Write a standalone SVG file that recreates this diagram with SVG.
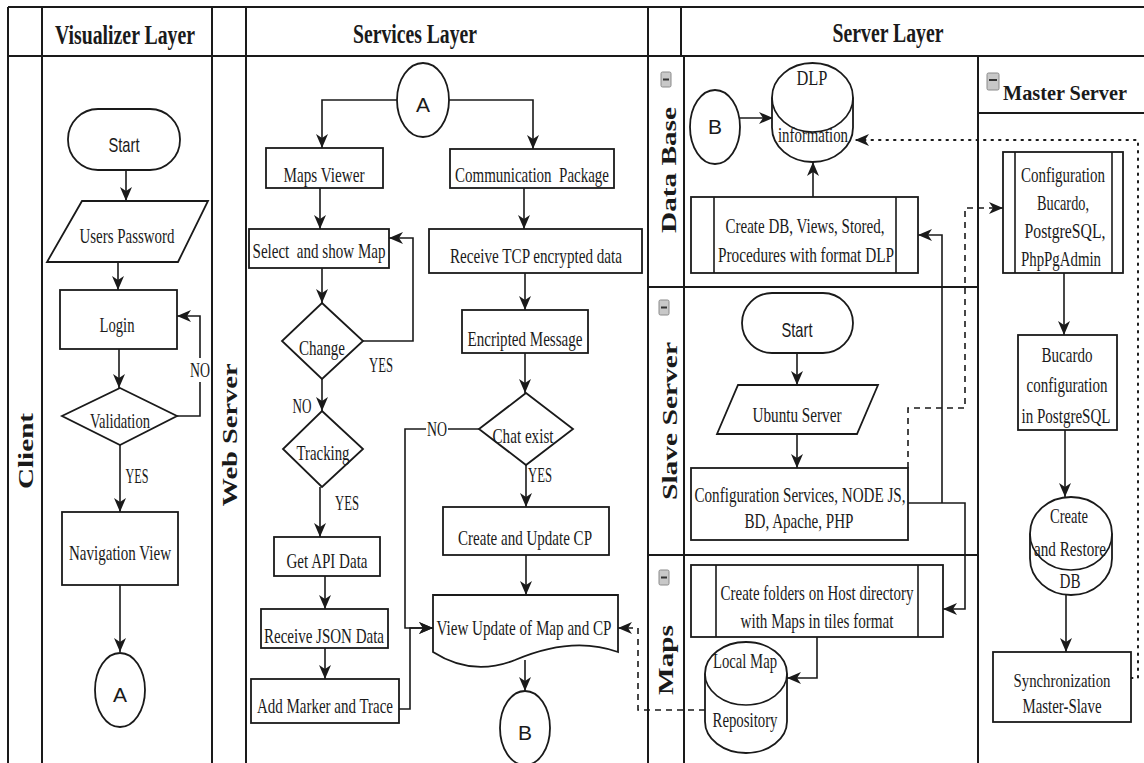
<svg xmlns="http://www.w3.org/2000/svg" width="1144" height="763" viewBox="0 0 1144 763">
<style>
.ln{fill:none;stroke:#1a1a1a;stroke-width:2}
.sh{fill:#fff;stroke:#1a1a1a;stroke-width:1.8}
.c{fill:none;stroke:#1a1a1a;stroke-width:1.6;marker-end:url(#ah)}
.cn{fill:none;stroke:#1a1a1a;stroke-width:1.6}
.dash{stroke-dasharray:6,5}
.dot{stroke-dasharray:1.5,6;stroke-linecap:round;stroke-width:2}
text{fill:#1a1a1a}
.t{font-family:"Liberation Serif","Times New Roman",serif;font-size:21px;text-anchor:middle}
.s{font-family:"Liberation Sans",Arial,sans-serif;font-size:21px;text-anchor:middle}
.h{font-family:"Liberation Serif","Times New Roman",serif;font-size:27px;font-weight:bold;text-anchor:middle}
.lb{font-family:"Liberation Serif","Times New Roman",serif;font-size:28px;font-weight:bold;text-anchor:middle}
.ic{fill:#c8c8c8;stroke:#8a8a8a;stroke-width:1}
.icb{stroke:#333;stroke-width:2}
</style>
<defs>
<marker id="ah" viewBox="0 0 14 12" refX="14" refY="6" markerWidth="14" markerHeight="12" markerUnits="userSpaceOnUse" orient="auto">
<path d="M0,0 L14,6 L0,12 L4,6 Z" fill="#1a1a1a"/>
</marker>
</defs>
<rect width="1144" height="763" fill="#fff"/>

<g id="frame">
<path class="ln" d="M8,7 H1144 M8,56 H1144 M8,7 V763 M42,7 V763 M212,7 V763 M246,7 V763 M648,7 V763 M681,7 V56 M684,56 V763 M978,56 V763 M648,287 H978 M648,555 H978 M978,113 H1144"/>
<text class="h" x="125" y="44" textLength="140" lengthAdjust="spacingAndGlyphs">Visualizer Layer</text>
<text class="h" x="415" y="43" textLength="124" lengthAdjust="spacingAndGlyphs">Services Layer</text>
<text class="h" x="888" y="42" textLength="111" lengthAdjust="spacingAndGlyphs">Server Layer</text>
<text class="lb" transform="translate(33,451) rotate(-90) scale(1,0.75)" textLength="76" lengthAdjust="spacingAndGlyphs">Client</text>
<text class="lb" transform="translate(237,435) rotate(-90) scale(1,0.75)" textLength="143" lengthAdjust="spacingAndGlyphs">Web Server</text>
<text class="lb" transform="translate(676,170) rotate(-90) scale(1,0.75)" textLength="126" lengthAdjust="spacingAndGlyphs">Data Base</text>
<text class="lb" transform="translate(677,421) rotate(-90) scale(1,0.75)" textLength="158" lengthAdjust="spacingAndGlyphs">Slave Server</text>
<text class="lb" transform="translate(673,660) rotate(-90) scale(1,0.75)" textLength="70" lengthAdjust="spacingAndGlyphs">Maps</text>
<rect class="ic" x="661" y="72" width="10" height="15" rx="1.5"/><path class="icb" d="M663,79.5 H669"/>
<rect class="ic" x="659" y="300" width="10" height="15" rx="1.5"/><path class="icb" d="M661,307.5 H667"/>
<rect class="ic" x="659" y="570" width="10" height="15" rx="1.5"/><path class="icb" d="M661,577.5 H667"/>
<rect class="ic" x="987" y="73" width="12" height="17" rx="1.5"/><path class="icb" d="M989,80 H997"/>
<text class="h" x="1065" y="100" style="font-size:22px" textLength="124" lengthAdjust="spacingAndGlyphs">Master Server</text>
</g>

<g id="connectors">
<path class="c" d="M126,170 V201"/>
<path class="c" d="M118,262 V290"/>
<path class="c" d="M119,349 V388"/>
<path class="c" d="M177,416 H200 V316 H177"/>
<path class="c" d="M120,445 V512"/>
<path class="c" d="M120,585 V652"/>
<path class="c" d="M397,100 H322 V148"/>
<path class="c" d="M449,100 H533 V149"/>
<path class="c" d="M320,188 V229"/>
<path class="c" d="M322,268 V303"/>
<path class="c" d="M363,341 H413 V238 H389"/>
<path class="c" d="M322,379 V411"/>
<path class="c" d="M320,487 V537"/>
<path class="c" d="M325,576 V609"/>
<path class="c" d="M325,648 V679"/>
<path class="c" d="M399,709 H410 V628 H433"/>
<path class="c" d="M524,188 V229"/>
<path class="c" d="M525,273 V310"/>
<path class="c" d="M525,353 V393"/>
<path class="c" d="M479,429 H405 V628 H433"/>
<path class="c" d="M526,465 V507"/>
<path class="c" d="M526,555 V595"/>
<path class="c" d="M525,660 V691"/>
<path class="c" d="M740,118 H773"/>
<path class="c" d="M813,197 V162"/>
<path class="c" d="M797,353 V385"/>
<path class="c" d="M797,434 V468"/>
<path class="c" d="M908,503 H965 V609 H943"/>
<path class="c" d="M942,503 V235 H918"/>
<path class="c" d="M817,637 V678 H787"/>
<path class="c dash" d="M705,710 H638 V628 H618"/>
<path class="c dash" d="M908,468 V408 H965 V208 H1003"/>
<path class="c" d="M1064,273 V335"/>
<path class="c" d="M1065,430 V497"/>
<path class="c" d="M1066,595 V652"/>
<path class="c dot" d="M1131,678 H1138 V140 H855"/>
<rect x="189" y="358" width="22" height="24" fill="#fff"/>
<text class="t" x="200" y="377" textLength="20" lengthAdjust="spacingAndGlyphs">NO</text>
<text class="t" x="137" y="483" textLength="23" lengthAdjust="spacingAndGlyphs">YES</text>
<text class="t" x="381" y="372" textLength="24" lengthAdjust="spacingAndGlyphs">YES</text>
<text class="t" x="302" y="413" textLength="19" lengthAdjust="spacingAndGlyphs">NO</text>
<text class="t" x="347" y="510" textLength="24" lengthAdjust="spacingAndGlyphs">YES</text>
<rect x="426" y="420" width="22" height="20" fill="#fff"/>
<text class="t" x="437" y="436" textLength="20" lengthAdjust="spacingAndGlyphs">NO</text>
<text class="t" x="540" y="482" textLength="24" lengthAdjust="spacingAndGlyphs">YES</text>
</g>

<g id="n-start">
<rect class="sh" x="68" y="109" width="112" height="61" rx="30"/>
<text class="s" x="124" y="152" textLength="31" lengthAdjust="spacingAndGlyphs">Start</text>
</g>
<g id="n-users-password">
<path class="sh" d="M82,201 H208 L178,262 H47 Z"/>
<text class="t" x="127" y="243" textLength="95" lengthAdjust="spacingAndGlyphs">Users Password</text>
</g>
<g id="n-login">
<rect class="sh" x="60" y="290" width="117" height="59"/>
<text class="t" x="117" y="332" textLength="35" lengthAdjust="spacingAndGlyphs">Login</text>
</g>
<g id="n-validation">
<path class="sh" d="M120,388 L177,416 L120,445 L62,416 Z"/>
<text class="t" x="120" y="428" textLength="60" lengthAdjust="spacingAndGlyphs">Validation</text>
</g>
<g id="n-navigation">
<rect class="sh" x="62" y="512" width="116" height="73"/>
<text class="t" x="120" y="560" textLength="102" lengthAdjust="spacingAndGlyphs">Navigation View</text>
</g>
<g id="n-a-client">
<ellipse class="sh" cx="120" cy="690" rx="25" ry="37"/>
<text class="s" x="120" y="702">A</text>
</g>

<g id="n-a-services">
<ellipse class="sh" cx="423" cy="100" rx="26" ry="37"/>
<text class="s" x="423" y="112">A</text>
</g>
<g id="n-maps-viewer">
<rect class="sh" x="266" y="148" width="117" height="40"/>
<text class="t" x="324" y="182" textLength="81" lengthAdjust="spacingAndGlyphs">Maps Viewer</text>
</g>
<g id="n-select-map">
<rect class="sh" x="249" y="229" width="140" height="39"/>
<text class="t" x="319" y="258" textLength="133" lengthAdjust="spacingAndGlyphs" xml:space="preserve">Select  and show Map</text>
</g>
<g id="n-change">
<path class="sh" d="M322,303 L363,341 L322,379 L282,341 Z"/>
<text class="t" x="322" y="355" textLength="46" lengthAdjust="spacingAndGlyphs">Change</text>
</g>
<g id="n-tracking">
<path class="sh" d="M322,411 L363,449 L322,487 L283,449 Z"/>
<text class="t" x="323" y="460" textLength="53" lengthAdjust="spacingAndGlyphs">Tracking</text>
</g>
<g id="n-get-api">
<rect class="sh" x="274" y="537" width="106" height="39"/>
<text class="t" x="327" y="568" textLength="81" lengthAdjust="spacingAndGlyphs">Get API Data</text>
</g>
<g id="n-receive-json">
<rect class="sh" x="261" y="609" width="127" height="39"/>
<text class="t" x="324" y="643" textLength="120" lengthAdjust="spacingAndGlyphs">Receive JSON Data</text>
</g>
<g id="n-add-marker">
<rect class="sh" x="251" y="679" width="148" height="44"/>
<text class="t" x="325" y="713" textLength="136" lengthAdjust="spacingAndGlyphs">Add Marker and Trace</text>
</g>
<g id="n-comm-package">
<rect class="sh" x="450" y="149" width="164" height="39"/>
<text class="t" x="532" y="182" textLength="154" lengthAdjust="spacingAndGlyphs" xml:space="preserve">Communication  Package</text>
</g>
<g id="n-receive-tcp">
<rect class="sh" x="429" y="229" width="213" height="44"/>
<text class="t" x="536" y="263" textLength="172" lengthAdjust="spacingAndGlyphs">Receive TCP encrypted data</text>
</g>
<g id="n-encripted">
<rect class="sh" x="462" y="310" width="126" height="43"/>
<text class="t" x="525" y="346" textLength="115" lengthAdjust="spacingAndGlyphs">Encripted Message</text>
</g>
<g id="n-chat-exist">
<path class="sh" d="M526,393 L573,429 L526,465 L479,429 Z"/>
<text class="t" x="523" y="443" textLength="61" lengthAdjust="spacingAndGlyphs">Chat exist</text>
</g>
<g id="n-create-cp">
<rect class="sh" x="443" y="507" width="166" height="48"/>
<text class="t" x="525" y="545" textLength="134" lengthAdjust="spacingAndGlyphs">Create and Update CP</text>
</g>
<g id="n-view-update">
<path class="sh" d="M433,595 H618 V652 C585,640 550,645 515,660 C485,672 458,668 433,652 Z"/>
<text class="t" x="524" y="635" textLength="175" lengthAdjust="spacingAndGlyphs">View Update of Map and CP</text>
</g>
<g id="n-b-services">
<ellipse class="sh" cx="525" cy="728" rx="25" ry="37"/>
<text class="s" x="525" y="740">B</text>
</g>

<g id="n-b-db">
<ellipse class="sh" cx="715" cy="127" rx="25" ry="37"/>
<text class="s" x="715" y="134">B</text>
</g>
<g id="n-dlp">
<path class="sh" d="M772,97.5 A40.5,34.5 0 0 1 853,97.5 V127.5 A40.5,34.5 0 0 1 772,127.5 Z"/>
<path class="cn" d="M772,97.5 A40.5,34.5 0 0 0 853,97.5"/>
<text class="t" x="812" y="85" textLength="31" lengthAdjust="spacingAndGlyphs">DLP</text>
<text class="t" x="813" y="142" textLength="70" lengthAdjust="spacingAndGlyphs">information</text>
</g>
<g id="n-create-db">
<rect class="sh" x="691" y="197" width="227" height="76"/>
<path class="cn" d="M714,197 V273 M896,197 V273"/>
<text class="t" x="805" y="233" textLength="159" lengthAdjust="spacingAndGlyphs">Create DB, Views, Stored,</text>
<text class="t" x="806" y="262" textLength="176" lengthAdjust="spacingAndGlyphs">Procedures with format DLP</text>
</g>
<g id="n-start-slave">
<rect class="sh" x="742" y="293" width="111" height="60" rx="30"/>
<text class="s" x="797" y="337" textLength="31" lengthAdjust="spacingAndGlyphs">Start</text>
</g>
<g id="n-ubuntu">
<path class="sh" d="M738,385 H878 L857,434 H717 Z"/>
<text class="t" x="797" y="422" textLength="89" lengthAdjust="spacingAndGlyphs">Ubuntu Server</text>
</g>
<g id="n-config-services">
<rect class="sh" x="691" y="468" width="217" height="72"/>
<text class="t" x="800" y="502" textLength="211" lengthAdjust="spacingAndGlyphs">Configuration Services, NODE JS,</text>
<text class="t" x="799" y="528" textLength="109" lengthAdjust="spacingAndGlyphs">BD, Apache, PHP</text>
</g>
<g id="n-create-folders">
<rect class="sh" x="691" y="565" width="252" height="72"/>
<path class="cn" d="M716,565 V637 M918,565 V637"/>
<text class="t" x="817" y="600" textLength="193" lengthAdjust="spacingAndGlyphs">Create folders on Host directory</text>
<text class="t" x="817" y="628" textLength="153" lengthAdjust="spacingAndGlyphs">with Maps in tiles format</text>
</g>
<g id="n-local-map">
<path class="sh" d="M705,673.5 A41,31.5 0 0 1 787,673.5 V721.5 A41,31.5 0 0 1 705,721.5 Z"/>
<path class="cn" d="M705,673.5 A41,31.5 0 0 0 787,673.5"/>
<text class="t" x="745" y="668" textLength="64" lengthAdjust="spacingAndGlyphs">Local Map</text>
<text class="t" x="745" y="727" textLength="65" lengthAdjust="spacingAndGlyphs">Repository</text>
</g>

<g id="n-config-bucardo">
<rect class="sh" x="1003" y="152" width="120" height="121"/>
<path class="cn" d="M1015,152 V273 M1112,152 V273"/>
<text class="t" x="1063" y="182" textLength="84" lengthAdjust="spacingAndGlyphs">Configuration</text>
<text class="t" x="1063" y="210" textLength="52" lengthAdjust="spacingAndGlyphs">Bucardo,</text>
<text class="t" x="1065" y="238" textLength="81" lengthAdjust="spacingAndGlyphs">PostgreSQL,</text>
<text class="t" x="1061" y="266" textLength="80" lengthAdjust="spacingAndGlyphs">PhpPgAdmin</text>
</g>
<g id="n-bucardo-config">
<rect class="sh" x="1018" y="335" width="99" height="95"/>
<text class="t" x="1067" y="362" textLength="51" lengthAdjust="spacingAndGlyphs">Bucardo</text>
<text class="t" x="1067" y="392" textLength="81" lengthAdjust="spacingAndGlyphs">configuration</text>
<text class="t" x="1066" y="423" textLength="89" lengthAdjust="spacingAndGlyphs">in PostgreSQL</text>
</g>
<g id="n-create-restore">
<path class="sh" d="M1030,533.5 A41,36.5 0 0 1 1112,533.5 V558.5 A41,36.5 0 0 1 1030,558.5 Z"/>
<path class="cn" d="M1030,533.5 A41,36.5 0 0 0 1112,533.5"/>
<text class="t" x="1069" y="523" textLength="38" lengthAdjust="spacingAndGlyphs">Create</text>
<text class="t" x="1070" y="556" textLength="72" lengthAdjust="spacingAndGlyphs">and Restore</text>
<text class="t" x="1070" y="588" textLength="21" lengthAdjust="spacingAndGlyphs">DB</text>
</g>
<g id="n-sync">
<rect class="sh" x="993" y="652" width="138" height="70"/>
<text class="t" x="1062" y="687" style="font-size:19px" textLength="97" lengthAdjust="spacingAndGlyphs">Synchronization</text>
<text class="t" x="1062" y="713" textLength="79" lengthAdjust="spacingAndGlyphs">Master-Slave</text>
</g>
</svg>
